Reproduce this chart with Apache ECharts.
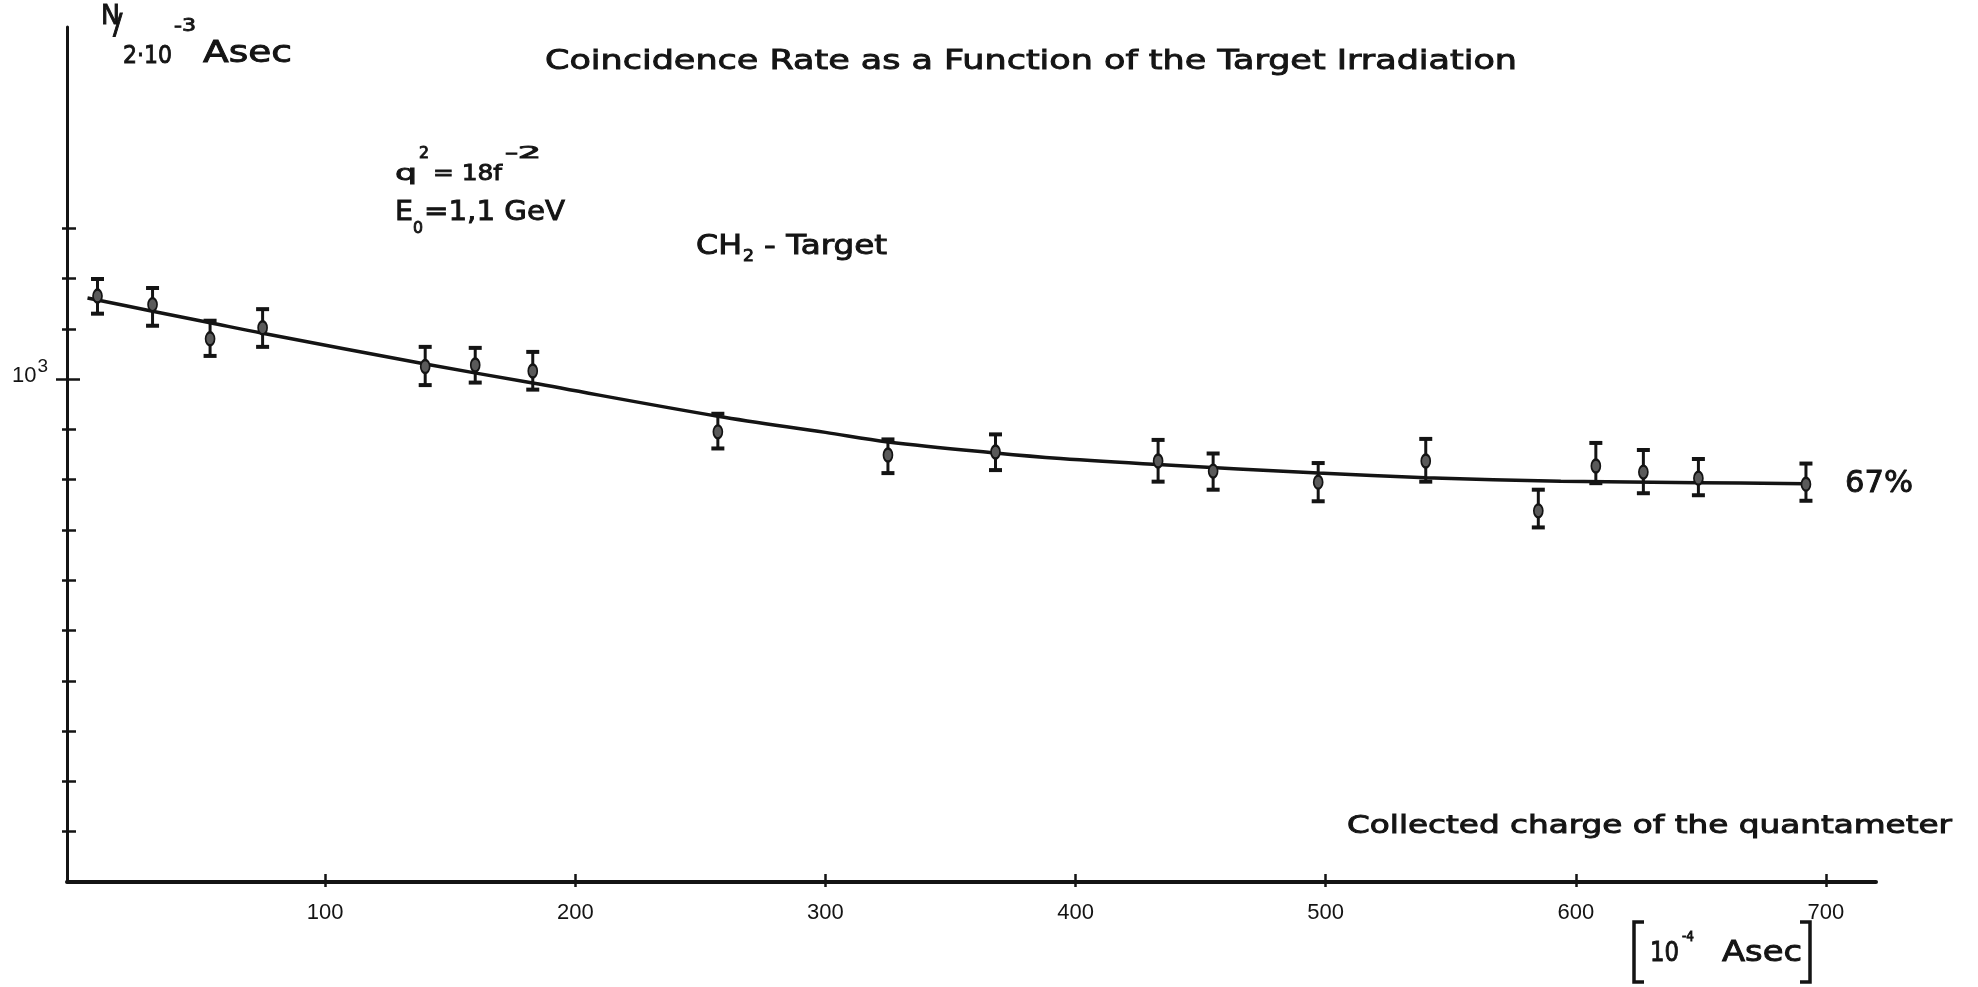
<!DOCTYPE html>
<html>
<head>
<meta charset="utf-8">
<title>Coincidence Rate as a Function of the Target Irradiation</title>
<script src="https://cdn.jsdelivr.net/npm/echarts@6.0.0/dist/echarts.min.js"></script>
<style>
  html, body {margin: 0; padding: 0; background: #fff;}
  #chart {width: 1978px; height: 987px;}
</style>
</head>
<body>
<div id="chart"></div>
<script>
// collected charge of the quantameter [10^-4 Asec]
const charge = [9, 31, 54, 75, 140, 160, 183, 257, 325, 368, 433, 455, 497, 540, 585, 608, 627, 649, 692];
// coincidences N per 2*10^-3 Asec, with error bar ends
const rate = [1165, 1148, 1080, 1102, 1025, 1028, 1016, 895, 849, 855, 837, 817, 795, 837, 738, 827, 815, 803, 791];
const rateLow = [1130, 1106, 1046, 1064, 988, 993, 979, 862, 813, 819, 796, 780, 757, 796, 705, 793, 773, 769, 758];
const rateHigh = [1199, 1181, 1116, 1139, 1064, 1062, 1054, 931, 880, 890, 879, 852, 833, 881, 780, 873, 859, 841, 832];
// hand drawn curve through the points
const fitCharge = [5, 31, 54, 75, 140, 183, 257, 300, 325, 368, 394, 433, 497, 540, 594, 649, 692];
const fitRate = [1161, 1135, 1112, 1091, 1030, 992, 926, 894, 875, 853, 842, 830, 813, 804, 797, 794, 792];

const xTicks = [100, 200, 300, 400, 500, 600, 700];
const yTicks = [100, 200, 300, 400, 500, 600, 700, 800, 900, 1000, 1100, 1200, 1300];
const yLabelTicks = [1000];

const INK = '#141414';
const SANS = '"DejaVu Sans", sans-serif';
const NUM = '"Liberation Sans", sans-serif';

const ctx = document.createElement('canvas').getContext('2d');
const stretch = (text, size, width, family) => {
  ctx.font = `${size}px ${family}`;
  return width / ctx.measureText(text).width;
};

// text put by its left edge and baseline, stretched to the lettering width
const label = (text, x, baseline, size, width, family = SANS) => ({
  type: 'text',
  x: x,
  y: baseline - 0.346 * size,
  scaleX: width ? stretch(text, size, width, family) : 1,
  silent: true,
  style: {
    text, fill: INK, stroke: INK, lineWidth: 0.9,
    fontSize: size, fontFamily: family, align: 'left', verticalAlign: 'middle'
  }
});

const bracket = (x, dir) => ({
  type: 'polyline',
  silent: true,
  shape: {points: [[x + dir * 10, 922], [x, 922], [x, 982], [x + dir * 10, 982]]},
  style: {stroke: INK, lineWidth: 3.5, fill: null}
});

const errorBar = (params, api) => {
  const x = api.value(0);
  const top = api.coord([x, api.value(2)]);
  const bot = api.coord([x, api.value(1)]);
  const w = 6.5;
  const stroke = {stroke: INK, lineWidth: 3};
  const cap = {stroke: INK, lineWidth: 4};
  return {
    type: 'group',
    children: [
      {type: 'line', shape: {x1: top[0], y1: top[1], x2: bot[0], y2: bot[1]}, style: stroke},
      {type: 'line', shape: {x1: top[0] - w, y1: top[1], x2: top[0] + w, y2: top[1]}, style: cap},
      {type: 'line', shape: {x1: bot[0] - w, y1: bot[1], x2: bot[0] + w, y2: bot[1]}, style: cap}
    ]
  };
};

const xRange = {type: 'value', min: -3.2, max: 720, offset: 0, position: 'bottom', splitLine: {show: false}};
const yRange = {type: 'value', min: 0, max: 1700, offset: 0, position: 'left', splitLine: {show: false}};
// extra axes only carry the other half of the crossing ticks;
// their line must stay "shown" (transparent) or the ticks drift off the axis
const ghostLine = {show: true, onZero: false, lineStyle: {color: 'rgba(0,0,0,0)', width: 1}};
const hidden = {axisLine: ghostLine, axisLabel: {show: false}};
const tick = (values, length, inside) => ({
  show: true, inside, length, customValues: values, lineStyle: {color: INK, width: 2.5}
});

const option = {
  backgroundColor: '#fff',
  animation: false,
  grid: {left: 67, right: 102, top: 27, bottom: 105, containLabel: false, outerBoundsMode: 'none'},
  xAxis: [
    {
      ...xRange,
      axisLine: {show: true, onZero: false, lineStyle: {color: INK, width: 4}},
      axisTick: tick(xTicks, 5, false),
      axisLabel: {customValues: xTicks, margin: 20, color: INK, fontSize: 22, fontFamily: NUM}
    },
    {...xRange, ...hidden, axisTick: tick(xTicks, 8, true)}
  ],
  yAxis: [
    {
      ...yRange,
      axisLine: {show: true, onZero: false, lineStyle: {color: INK, width: 3}},
      axisTick: tick(yTicks, 5, false),
      axisLabel: {
        customValues: yLabelTicks,
        margin: 19,
        formatter: () => '{a|10}{b|3}',
        rich: {
          a: {fontSize: 22, lineHeight: 22, fontFamily: NUM, color: INK, verticalAlign: 'middle', padding: [0, 0, 6, 0]},
          b: {fontSize: 19, lineHeight: 19, fontFamily: NUM, color: INK, verticalAlign: 'middle', padding: [0, 0, 24, 1]}
        }
      }
    },
    {...yRange, ...hidden, axisTick: tick(yTicks, 9, true)},
    {...yRange, ...hidden, axisTick: tick(yLabelTicks, 11, false)},
    {...yRange, ...hidden, axisTick: tick(yLabelTicks, 13, true)}
  ],
  graphic: {
    elements: [
      label('Coincidence Rate as a Function of the Target Irradiation', 545, 71, 27, 972),
      label('N', 101, 26, 26, 19),
      label('/', 113, 36, 28),
      label('2·10', 123, 65, 25, 49),
      label('-3', 174, 33, 18, 22),
      label('Asec', 203, 65, 30, 89),
      label('q', 395, 182, 22, 22),
      label('2', 419, 159, 15, 10),
      label('= 18f', 433, 182, 22, 69),
      label('-2', 505, 159, 15, 36),
      label('E', 395, 222, 27, 18),
      label('0', 413, 234, 16, 10),
      label('=1,1 GeV', 424, 222, 27, 141),
      label('CH', 696, 256, 26, 46),
      label('2', 743, 262, 16, 11),
      label('- Target', 764, 256, 26, 123),
      label('67%', 1845, 495, 30, 68),
      label('Collected charge of the quantameter', 1347, 835, 24, 605),
      bracket(1634, 1),
      bracket(1810, -1),
      label('10', 1650, 963, 27, 29),
      label('-4', 1682, 942, 14, 12),
      label('Asec', 1722, 963, 28, 80)
    ]
  },
  series: [
    {
      type: 'line',
      name: 'fit',
      data: fitCharge.map((x, i) => [x, fitRate[i]]),
      smooth: 0.35,
      symbol: 'none',
      lineStyle: {color: INK, width: 3.5},
      z: 2
    },
    {
      type: 'custom',
      name: 'error',
      data: charge.map((x, i) => [x, rateLow[i], rateHigh[i]]),
      encode: {x: 0, y: [1, 2]},
      renderItem: errorBar,
      z: 3
    },
    {
      type: 'scatter',
      name: 'rate',
      data: charge.map((x, i) => [x, rate[i]]),
      symbol: 'circle',
      symbolSize: [9, 13],
      itemStyle: {color: '#5a5a5a', borderColor: INK, borderWidth: 2, opacity: 1},
      z: 4
    }
  ]
};

const chart = echarts.init(document.getElementById('chart'), null, {renderer: 'canvas'});
chart.setOption(option);
</script>
</body>
</html>
